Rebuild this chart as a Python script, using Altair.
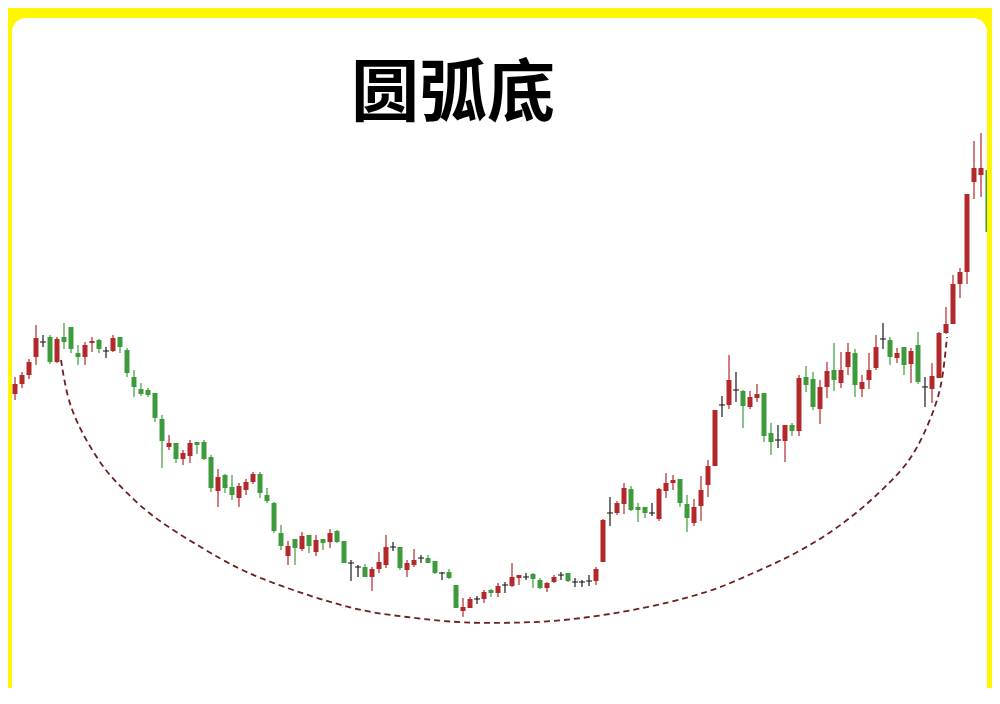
import altair as alt
import pandas as pd

# ---- candle data (price units) ----
opens = [30.6, 31.6, 32.5, 34.3, 35.8, 36.3, 33.8, 36.3, 37.3, 34.7,
         34.3, 35.7, 36.0, 34.9, 34.9, 36.3, 35.0, 32.3, 31.1, 31.0,
         30.7, 28.1, 25.3, 25.7, 24.1, 24.4, 25.8, 25.8, 24.3, 20.9,
         22.5, 21.3, 20.2, 21.0, 21.8, 22.6, 20.5, 19.7, 16.7, 14.4,
         16.1, 15.1, 16.5, 14.8, 16.1, 15.8, 16.9, 15.9, 13.7, 13.3,
         13.3, 12.3, 13.1, 13.5, 15.3, 15.3, 13.0, 13.5, 14.2, 14.2,
         13.9, 12.7, 12.8, 11.5, 8.9, 9.2, 10.1, 10.1, 11.0, 10.7,
         11.5, 11.4, 12.2, 12.3, 12.6, 12.0, 11.2, 11.8, 12.5, 12.7,
         11.8, 11.8, 11.9, 11.9, 13.8, 18.7, 18.7, 19.6, 21.1, 19.3,
         19.3, 18.7, 18.1, 20.9, 21.7, 22.1, 19.6, 17.7, 19.4, 21.5,
         23.4, 29.5, 29.5, 31.0, 30.9, 29.3, 30.2, 30.7, 26.7, 26.0,
         25.9, 27.5, 26.9, 32.3, 32.1, 29.1, 31.3, 33.0, 31.7, 33.3,
         34.7, 31.1, 32.0, 33.2, 36.1, 36.0, 34.2, 35.3, 33.6, 35.5,
         31.3, 31.1, 32.2, 36.7, 37.6, 41.6, 42.8, 51.8, 52.5, 53.0]

closes = [31.6, 32.5, 33.8, 36.2, 35.8, 33.8, 36.1, 35.8, 35.1, 34.3,
          35.5, 35.9, 35.1, 34.9, 36.2, 35.3, 32.7, 31.3, 30.6, 30.5,
          28.2, 25.9, 25.7, 24.1, 24.7, 25.7, 25.5, 24.1, 21.2, 22.3,
          21.2, 20.5, 21.4, 21.8, 22.6, 20.7, 19.9, 16.9, 15.4, 15.4,
          15.2, 16.4, 15.4, 16.0, 15.7, 16.7, 15.8, 13.7, 13.7, 13.3,
          12.3, 13.1, 13.8, 15.3, 15.3, 13.2, 13.7, 14.0, 14.2, 13.7,
          12.7, 12.7, 12.2, 9.2, 9.3, 10.1, 10.1, 10.8, 10.7, 11.4,
          11.5, 12.3, 12.5, 12.3, 12.1, 11.2, 11.7, 12.3, 12.5, 11.9,
          11.8, 11.8, 11.9, 13.1, 18.0, 18.7, 19.7, 21.2, 19.0, 19.0,
          18.7, 18.7, 21.1, 21.7, 22.0, 19.7, 18.2, 19.3, 21.0, 23.4,
          29.0, 29.5, 32.0, 31.0, 29.4, 30.3, 30.6, 26.4, 25.8, 26.0,
          27.5, 26.9, 32.2, 31.5, 29.3, 31.3, 32.9, 32.0, 33.0, 34.8,
          31.5, 31.8, 33.0, 35.3, 36.1, 34.3, 34.7, 33.5, 34.9, 31.8,
          31.3, 32.4, 36.7, 37.6, 41.6, 42.8, 50.6, 53.2, 53.2, 46.8]

highs = [32.3, 32.8, 34.1, 37.5, 36.5, 36.5, 36.3, 37.7, 37.3, 35.5,
         35.8, 36.3, 36.1, 35.3, 36.5, 36.3, 35.2, 33.0, 31.7, 31.2,
         30.7, 28.5, 26.5, 25.7, 25.0, 26.0, 25.8, 26.0, 24.5, 23.1,
         22.6, 22.5, 21.7, 22.1, 22.8, 22.8, 21.2, 19.8, 17.5, 15.9,
         16.1, 16.8, 16.5, 16.5, 16.1, 17.1, 17.0, 15.9, 14.0, 13.5,
         13.6, 13.3, 14.8, 16.5, 15.8, 15.3, 14.0, 15.1, 14.5, 14.5,
         13.9, 12.8, 13.1, 11.5, 10.2, 10.3, 10.4, 11.0, 11.1, 11.7,
         11.8, 13.7, 12.5, 12.7, 12.7, 12.2, 11.8, 12.5, 12.8, 12.7,
         12.2, 12.0, 12.5, 13.3, 18.1, 20.3, 19.9, 21.7, 21.4, 19.7,
         19.3, 19.7, 21.2, 22.7, 22.5, 22.1, 20.5, 20.1, 22.4, 24.0,
         29.0, 30.4, 34.5, 32.8, 31.0, 30.9, 31.6, 30.7, 27.7, 27.5,
         27.5, 27.7, 32.5, 33.4, 32.8, 32.0, 33.8, 35.7, 34.8, 35.7,
         35.1, 32.5, 34.7, 36.5, 37.7, 36.3, 35.2, 35.3, 35.2, 36.8,
         32.3, 33.7, 36.8, 39.3, 42.5, 43.2, 50.6, 55.9, 56.7, 53.3]

lows = [30.0, 31.2, 32.1, 33.5, 35.3, 33.6, 33.7, 35.1, 34.7, 33.5,
        33.5, 34.8, 34.7, 34.2, 34.8, 34.7, 32.3, 30.3, 30.4, 30.3,
        27.8, 23.2, 25.0, 23.7, 23.5, 23.7, 24.6, 24.0, 20.8, 19.3,
        20.7, 20.0, 19.3, 20.5, 21.6, 20.2, 19.7, 16.7, 15.0, 13.5,
        13.5, 14.9, 14.7, 14.4, 15.0, 15.2, 15.7, 13.7, 11.9, 12.3,
        12.3, 10.9, 12.7, 13.2, 14.9, 13.0, 12.3, 13.3, 13.7, 13.7,
        12.6, 12.0, 12.1, 9.2, 8.3, 9.2, 9.6, 9.7, 10.3, 10.3,
        10.7, 11.3, 11.5, 12.0, 11.2, 11.1, 10.8, 11.7, 12.0, 11.8,
        11.3, 11.3, 11.4, 11.5, 13.8, 17.4, 18.5, 18.6, 18.9, 17.8,
        18.2, 18.4, 17.9, 20.2, 21.0, 19.3, 16.8, 17.4, 17.9, 20.3,
        23.4, 28.3, 29.1, 29.8, 27.2, 29.1, 29.8, 25.8, 24.5, 25.2,
        23.8, 26.4, 26.4, 30.8, 29.0, 27.6, 30.2, 30.9, 31.2, 32.5,
        30.3, 30.3, 31.1, 33.0, 35.1, 33.5, 33.7, 32.5, 31.7, 31.6,
        29.3, 29.7, 32.2, 36.6, 37.6, 40.2, 41.6, 50.1, 50.3, 46.7]

# ---- dashed rounding-bottom arc ----
arc_x = [7.57, 8.43, 9.86, 11.71, 14.14, 17.0, 20.57, 27.43, 33.14, 37.86,
         42.71, 47.43, 52.14, 57.0, 61.71, 66.43, 70.29, 77.43, 84.57, 91.71,
         97.43, 101.71, 107.43, 113.14, 120.29, 126.43, 128.86, 130.71, 132.71,
         133.57, 134.14]
arc_y = [34.0, 30.3, 27.7, 25.3, 22.7, 20.7, 18.3, 15.3, 13.0, 11.7,
         10.5, 9.5, 8.7, 8.3, 7.9, 7.7, 7.7, 7.8, 8.4, 9.3,
         10.3, 11.2, 13.0, 14.8, 18.0, 22.0, 24.0, 26.3, 29.7,
         32.3, 36.3]

title_text = "圆弧底"

UP, DOWN, DOJI = "#b3282a", "#3d9b3d", "#1a1a1a"

kinds = ["up" if c > o else ("down" if c < o else "doji") for o, c in zip(opens, closes)]
df = pd.DataFrame({
    "i": list(range(1, len(opens) + 1)),
    "open": opens, "close": closes, "high": highs, "low": lows, "kind": kinds,
})
arc_df = pd.DataFrame({"x": arc_x, "y": arc_y})

W, H = 975, 670
xs = alt.Scale(domain=[0.5714, 139.857], nice=False, zero=False, padding=0)
ys = alt.Scale(domain=[1.2, 68.2], nice=False, zero=False, padding=0)
cs = alt.Scale(domain=["up", "down", "doji"], range=[UP, DOWN, DOJI])

# white rounded panel (decoration), runs past the bottom edge so only top corners are round
panel = alt.Chart(pd.DataFrame({"p": [0]})).mark_rect(
    color="#ffffff", cornerRadius=14
).encode(
    x=alt.value(0), x2=alt.value(W), y=alt.value(0), y2=alt.value(H + 40),
)

base = alt.Chart(df)

wicks = base.mark_rule(strokeWidth=1.2, clip=True).encode(
    x=alt.X("i:Q", scale=xs, axis=None),
    y=alt.Y("low:Q", scale=ys, axis=None),
    y2="high:Q",
    color=alt.Color("kind:N", scale=cs, legend=None),
)

bodies = base.transform_filter("datum.kind != 'doji'").mark_bar(size=5, clip=True).encode(
    x=alt.X("i:Q", scale=xs, axis=None),
    y=alt.Y("open:Q", scale=ys, axis=None),
    y2="close:Q",
    color=alt.Color("kind:N", scale=cs, legend=None),
)

dojis = base.transform_filter("datum.kind == 'doji'").mark_tick(
    orient="horizontal", size=6, thickness=1.5, clip=True
).encode(
    x=alt.X("i:Q", scale=xs, axis=None),
    y=alt.Y("open:Q", scale=ys, axis=None),
    color=alt.Color("kind:N", scale=cs, legend=None),
)

arc = alt.Chart(arc_df).mark_line(
    strokeDash=[6, 4], strokeWidth=1.8, color="#6e1f1f", interpolate="basis"
).encode(
    x=alt.X("x:Q", scale=xs, axis=None),
    y=alt.Y("y:Q", scale=ys, axis=None),
)

title = alt.Chart(pd.DataFrame({"t": [title_text]})).mark_text(
    font="Noto Sans CJK SC", fontWeight="bold", fontSize=68, color="#000000",
    align="center", baseline="middle",
).encode(
    text="t:N", x=alt.value(441), y=alt.value(78),
)

chart = alt.layer(panel, arc, wicks, bodies, dojis, title).properties(
    width=W, height=H,
    background="#fff700",
    padding={"left": 4, "top": 10, "right": 5, "bottom": 0},
    autosize=alt.AutoSizeParams(type="none"),
).configure_view(
    fill="transparent", stroke="transparent",
)

chart.save("out.html", embed_options={"renderer": "svg", "actions": False})
